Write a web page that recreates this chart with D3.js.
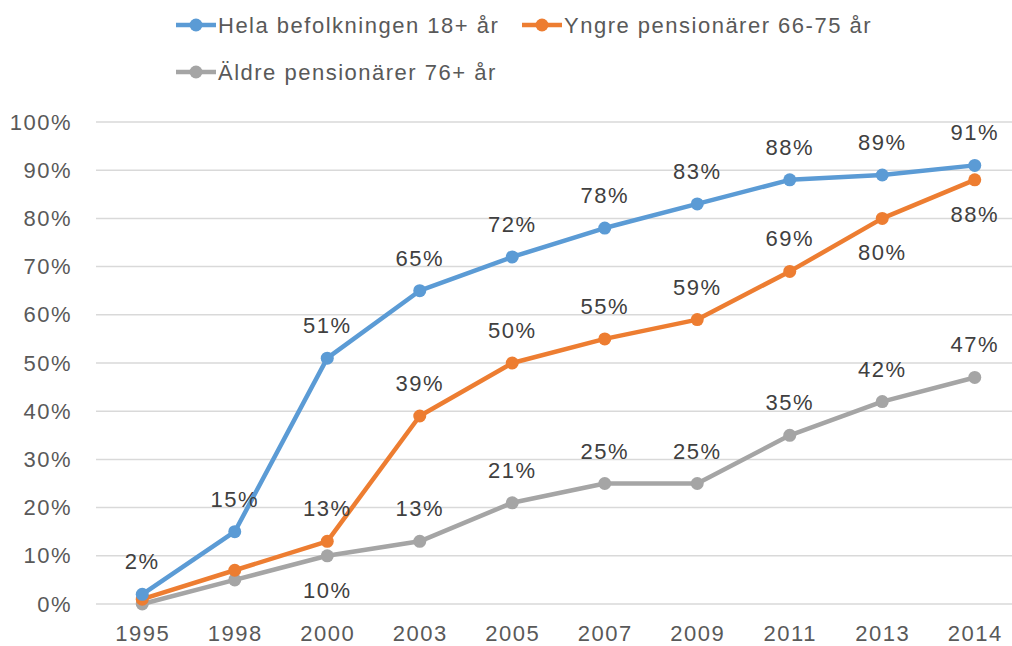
<!DOCTYPE html>
<html>
<head>
<meta charset="utf-8">
<script src="https://cdn.jsdelivr.net/npm/d3@7"></script>
<style>
  body { margin: 0; background: #fff; }
  svg { font-family: "Liberation Sans", Arial, sans-serif; }
</style>
</head>
<body>
<div id="chart"></div>
<script>
// data
var years = ["1995", "1998", "2000", "2003", "2005", "2007", "2009", "2011", "2013", "2014"];
var hela = [2, 15, 51, 65, 72, 78, 83, 88, 89, 91];
var yngre = [1, 7, 13, 39, 50, 55, 59, 69, 80, 88];
var aldre = [0, 5, 10, 13, 21, 25, 25, 35, 42, 47];
var yTicks = [0, 10, 20, 30, 40, 50, 60, 70, 80, 90, 100];
var seriesNames = ["Hela befolkningen 18+ år", "Yngre pensionärer 66-75 år", "Äldre pensionärer 76+ år"];

var width = 1012, height = 646;
var margin = {top: 122, right: 0, bottom: 42, left: 96};
var fontSize = 22, spacing = "1.5px";

// a = label above the point, b = below, null = no label
var series = [
  {name: seriesNames[0], values: hela, color: "#5b9bd5",
   labels: ["a", "a", "a", "a", "a", "a", "a", "a", "a", "a"]},
  {name: seriesNames[1], values: yngre, color: "#ed7d31",
   labels: [null, null, "a", "a", "a", "a", "a", "a", "b", "b"]},
  {name: seriesNames[2], values: aldre, color: "#a5a5a5",
   labels: [null, null, "b", "a", "a", "a", "a", "a", "a", "a"]}
];

var svg = d3.select("#chart").append("svg")
    .attr("width", width)
    .attr("height", height);

var x = d3.scalePoint()
    .domain(years)
    .range([margin.left, 1021])
    .padding(0.5);

var y = d3.scaleLinear()
    .domain([0, 100])
    .range([height - margin.bottom, margin.top]);

// gridlines
svg.append("g")
  .selectAll("line")
  .data(yTicks)
  .enter().append("line")
    .attr("x1", margin.left)
    .attr("x2", 1021)
    .attr("y1", function (d) { return y(d); })
    .attr("y2", function (d) { return y(d); })
    .attr("stroke", "#d9d9d9")
    .attr("stroke-width", 1.5);

// y axis labels
var yAxis = d3.axisLeft(y)
    .tickValues(yTicks)
    .tickSize(0)
    .tickPadding(0)
    .tickFormat(function (d) { return d + "%"; });

svg.append("g")
    .attr("transform", "translate(72,0)")
    .call(yAxis)
    .call(function (g) { g.select(".domain").remove(); })
    .selectAll("text")
    .attr("font-size", fontSize)
    .attr("letter-spacing", spacing)
    .attr("font-family", "Liberation Sans, Arial, sans-serif")
    .attr("fill", "#595959");

// x axis labels
var xAxis = d3.axisBottom(x).tickSize(0).tickPadding(0);

svg.append("g")
    .attr("transform", "translate(0," + (height - margin.bottom + 21) + ")")
    .call(xAxis)
    .call(function (g) { g.select(".domain").remove(); })
    .selectAll("text")
    .attr("font-size", fontSize)
    .attr("letter-spacing", spacing)
    .attr("font-family", "Liberation Sans, Arial, sans-serif")
    .attr("fill", "#595959");

var line = d3.line()
    .x(function (d, i) { return x(years[i]); })
    .y(function (d) { return y(d); });

// lines, drawn back to front
var drawOrder = [series[2], series[1], series[0]];

drawOrder.forEach(function (s) {
  svg.append("path")
      .datum(s.values)
      .attr("fill", "none")
      .attr("stroke", s.color)
      .attr("stroke-width", 4.5)
      .attr("stroke-linejoin", "round")
      .attr("d", line);

  svg.append("g")
    .selectAll("circle")
    .data(s.values)
    .enter().append("circle")
      .attr("cx", function (d, i) { return x(years[i]); })
      .attr("cy", function (d) { return y(d); })
      .attr("r", 6.5)
      .attr("fill", s.color);
});

// data labels
series.forEach(function (s) {
  s.values.forEach(function (v, i) {
    var pos = s.labels[i];
    if (!pos) return;
    svg.append("text")
        .attr("x", x(years[i]))
        .attr("y", pos === "a" ? y(v) - 25 : y(v) + 42)
        .attr("text-anchor", "middle")
        .attr("font-size", fontSize)
        .attr("letter-spacing", spacing)
        .attr("fill", "#404040")
        .text(v + "%");
  });
});

// legend
var legendItems = [
  {x: 176, y: 25, s: series[0]},
  {x: 522, y: 25, s: series[1]},
  {x: 176, y: 72, s: series[2]}
];

var lg = svg.append("g").selectAll("g")
    .data(legendItems)
    .enter().append("g")
    .attr("transform", function (d) { return "translate(" + d.x + "," + d.y + ")"; });

lg.append("line")
    .attr("x1", 0).attr("x2", 40)
    .attr("stroke", function (d) { return d.s.color; })
    .attr("stroke-width", 4.5);

lg.append("circle")
    .attr("cx", 20)
    .attr("r", 6.5)
    .attr("fill", function (d) { return d.s.color; });

lg.append("text")
    .attr("x", 42)
    .attr("dy", "0.35em")
    .attr("font-size", fontSize)
    .attr("letter-spacing", spacing)
    .attr("fill", "#595959")
    .text(function (d) { return d.s.name; });
</script>
</body>
</html>
